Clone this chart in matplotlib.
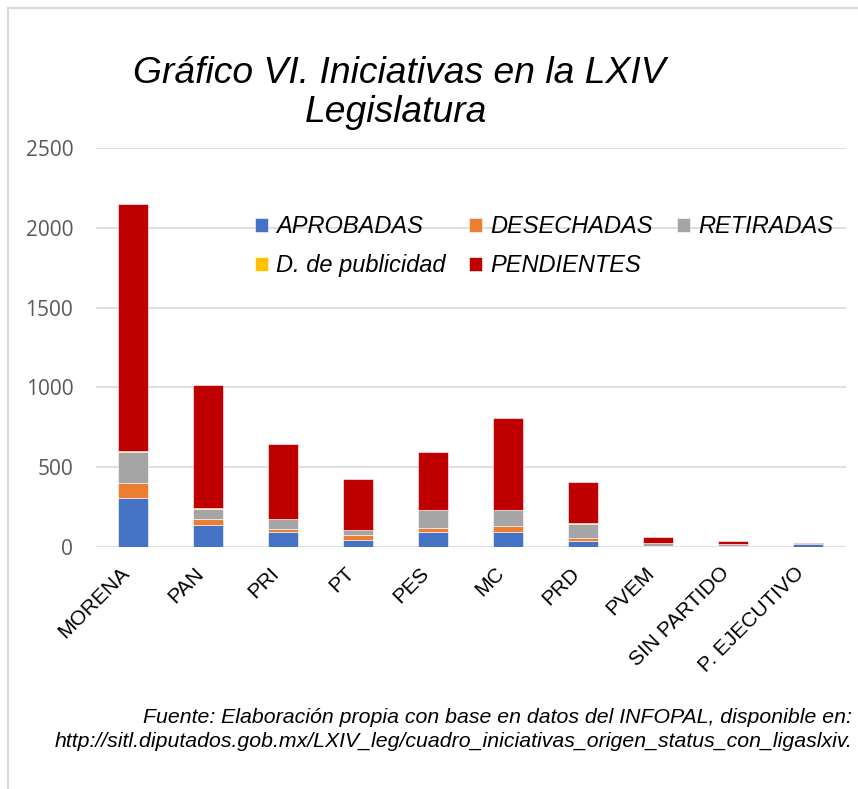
import matplotlib.pyplot as plt
import numpy as np

partidos = ["MORENA", "PAN", "PRI", "PT", "PES", "MC", "PRD", "PVEM",
            "SIN PARTIDO", "P. EJECUTIVO"]
aprobadas = [310, 139, 94, 42, 94, 94, 36, 3, 2, 20]
desechadas = [94, 36, 18, 35, 25, 37, 23, 3, 2, 0]
retiradas = [190, 66, 63, 27, 110, 98, 87, 19, 13, 1]
d_publicidad = [5, 4, 3, 2, 3, 3, 2, 0, 0, 0]
pendientes = [1550, 772, 469, 319, 365, 577, 260, 35, 19, 3]

series = [
    ("APROBADAS", aprobadas, "#4472C4"),
    ("DESECHADAS", desechadas, "#ED7D31"),
    ("RETIRADAS", retiradas, "#A5A5A5"),
    ("D. de publicidad", d_publicidad, "#FFC000"),
    ("PENDIENTES", pendientes, "#C00000"),
]

W, H = 858, 789
fig = plt.figure(figsize=(W / 100, H / 100), dpi=100)
ax = fig.add_axes([95.5 / W, 1 - 547 / H, 750 / W, 399 / H])

x = np.arange(len(partidos))
bottom = np.zeros(len(partidos))
handles = []
for name, vals, color in series:
    b = ax.bar(x, vals, 0.4, bottom=bottom, color=color, label=name,
               edgecolor="white", linewidth=0.4, zorder=3)
    handles.append(b)
    bottom += np.array(vals)

ax.set_xlim(-0.5, len(partidos) - 0.5)
ax.set_ylim(0, 2500)
ax.set_yticks(range(0, 2501, 500))
ax.grid(axis="y", color="#D9D9D9", linewidth=1.2, zorder=0)
for s in ax.spines.values():
    s.set_visible(False)
ax.tick_params(axis="both", length=0)
ax.tick_params(axis="y", pad=16, labelsize=15, labelcolor="#595959")
ax.tick_params(axis="x", pad=12)
for lbl in ax.get_yticklabels():
    lbl.set_fontfamily("Open Sans")
ax.set_xticks(x)
ax.set_xticklabels(partidos, rotation=45, ha="right", fontsize=15,
                   fontfamily="Liberation Sans")

# legend filled column-wise, so reorder to read row by row
order = [0, 3, 1, 4, 2]
fig.legend(handles=[handles[i] for i in order], loc="upper left",
           bbox_to_anchor=(255 / W, 1 - 215 / H),
           ncol=3, frameon=False, borderpad=0, borderaxespad=0,
           handlelength=0.55, handleheight=0.55, handletextpad=0.35,
           columnspacing=1.0, labelspacing=0.68,
           prop={"family": "Liberation Sans", "style": "italic", "size": 17})

title_font = {"family": "Liberation Sans", "style": "italic", "size": 26.8}
fig.text(399 / W, 1 - 83 / H, "Gráfico VI. Iniciativas en la LXIV",
         ha="center", va="baseline", **title_font)
fig.text(396 / W, 1 - 122 / H, "Legislatura", ha="center", va="baseline",
         **title_font)

src_font = {"family": "Liberation Sans", "style": "italic", "size": 15.3}
fig.text(852 / W, 1 - 723 / H,
         "Fuente: Elaboración propia con base en datos del INFOPAL, disponible en:",
         ha="right", va="baseline", **src_font)
fig.text(852 / W, 1 - 747 / H,
         "http://sitl.diputados.gob.mx/LXIV_leg/cuadro_iniciativas_origen_status_con_ligaslxiv.",
         ha="right", va="baseline", **src_font)

# chart frame
fig.add_artist(plt.Line2D([8 / W, 8 / W], [0, 1 - 8 / H], color="#D9D9D9",
                          linewidth=1.5, transform=fig.transFigure))
fig.add_artist(plt.Line2D([8 / W, 1], [1 - 8 / H, 1 - 8 / H], color="#D9D9D9",
                          linewidth=1.5, transform=fig.transFigure))

fig.savefig("out.png", dpi=100, facecolor="white")
